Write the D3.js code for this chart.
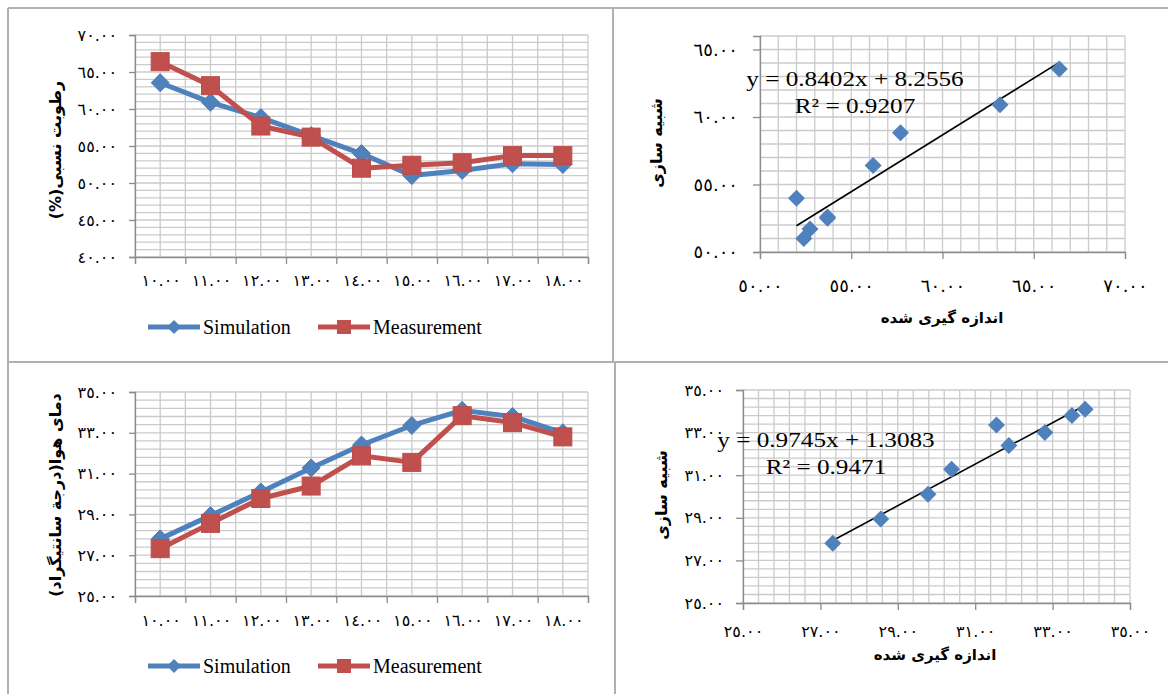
<html>
<script src="https://d3js.org/d3.v7.min.js"></script>
<style>
    body { margin: 0; background: #fff; }
</style>

<body>
    <script>
        // hours of the day (categories)
        var hours = [10, 11, 12, 13, 14, 15, 16, 17, 18];

        // relative humidity (%)
        var humSim = [63.55, 60.9, 58.84, 56.4, 53.98, 51.0, 51.7, 52.6, 52.5];
        var humMeas = [66.4, 63.15, 57.7, 56.2, 52.0, 52.4, 52.74, 53.7, 53.7];

        // air temperature (C)
        var tempSim = [27.8, 28.94, 30.1, 31.28, 32.4, 33.36, 34.1, 33.8, 33.0];
        var tempMeas = [27.32, 28.56, 29.78, 30.39, 31.87, 31.55, 33.84, 33.5, 32.8];

        var humTicks = [40, 45, 50, 55, 60, 65, 70];
        var humScatterX = [50, 55, 60, 65, 70];
        var humScatterY = [50, 55, 60, 65];
        var tempTicks = [25, 27, 29, 31, 33, 35];

        // trendline coefficients [slope, intercept] and R2 as printed
        var humFit = [0.8402, 8.2556];
        var humR2 = "0.9207";
        var tempFit = [0.9745, 1.3083];
        var tempR2 = "0.9471";

        var BLUE = "#4F81BD", RED = "#C0504D", GRID = "#CBCBCB", AXIS = "#8C8C8C";
        var FA = "٠١٢٣٤٥٦٧٨٩";
        function fa(v) { return v.toFixed(2).replace(/\d/g, d => FA[d]); }

        var svg = d3.select("body").append("svg")
            .attr("width", 1168)
            .attr("height", 694);

        // page frame lines
        var frame = svg.append("g").attr("stroke", "#B0B0B0").attr("stroke-width", 2);
        [[8, 8, 1168, 8], [8, 362, 1168, 362], [8, 8, 8, 694], [613, 8, 613, 362], [615, 362, 615, 694]]
            .forEach(l => frame.append("line").attr("x1", l[0]).attr("y1", l[1]).attr("x2", l[2]).attr("y2", l[3]));

        function diamond(r) { return `M0,${-r}L${r},0L0,${r}L${-r},0Z`; }

        function styleAxis(a, size, spacing) {
            a.select(".domain").attr("stroke", AXIS).attr("stroke-width", 1.3);
            a.selectAll(".tick line").attr("stroke", AXIS).attr("stroke-width", 1.3);
            a.selectAll("text").attr("font-family", "DejaVu Sans").attr("font-size", size)
                .attr("letter-spacing", spacing).attr("fill", "#000");
        }

        function vTitle(txt, cx, cy) {
            svg.append("text")
                .attr("transform", `translate(${cx},${cy}) rotate(-90)`)
                .attr("direction", "rtl")
                .attr("text-anchor", "middle")
                .attr("dominant-baseline", "central")
                .attr("font-family", "DejaVu Sans")
                .attr("font-weight", "bold")
                .attr("font-size", 16)
                .text(txt);
        }

        function lineChart(o) {
            var g = svg.append("g");
            var x = d3.scaleLinear().domain([0, hours.length]).range([o.left, o.right]);
            var y = d3.scaleLinear().domain(o.domain).range([o.bottom, o.top]);

            g.selectAll(".hg").data(d3.range(o.domain[0], o.domain[1] + 1e-6, o.minor)).enter()
                .append("line")
                .attr("x1", o.left).attr("x2", o.right)
                .attr("y1", d => y(d)).attr("y2", d => y(d))
                .attr("stroke", GRID).attr("stroke-width", 1.3);
            g.selectAll(".vg").data(d3.range(0, hours.length + 1e-6, 0.5)).enter()
                .append("line")
                .attr("x1", d => x(d)).attr("x2", d => x(d))
                .attr("y1", o.top).attr("y2", o.bottom)
                .attr("stroke", GRID).attr("stroke-width", 1.3);

            var ya = g.append("g").attr("transform", `translate(${o.left},0)`)
                .call(d3.axisLeft(y).tickValues(o.ticks).tickSize(6).tickPadding(12).tickFormat(fa));
            styleAxis(ya, 16, 1.6);

            var xa = g.append("g").attr("transform", `translate(0,${o.bottom})`)
                .call(d3.axisBottom(x).tickValues(d3.range(0, hours.length + 1)).tickSize(7).tickFormat(""));
            styleAxis(xa, 16, 1.6);

            g.selectAll(".xl").data(hours).enter().append("text")
                .attr("x", (d, i) => x(i + 0.5) + 1)
                .attr("y", o.labelY)
                .attr("text-anchor", "middle")
                .attr("font-family", "DejaVu Sans").attr("font-size", 16).attr("letter-spacing", 1.8)
                .text(d => fa(d));

            var series = [{ v: o.sim, c: BLUE, m: "d" }, { v: o.meas, c: RED, m: "s" }];
            var line = d3.line().x((d, i) => x(i + 0.5)).y(d => y(d));
            series.forEach(s => {
                g.append("path").attr("d", line(s.v)).attr("fill", "none")
                    .attr("stroke", s.c).attr("stroke-width", 5).attr("stroke-linejoin", "round");
                var pts = g.selectAll(null).data(s.v).enter();
                if (s.m == "d") {
                    pts.append("path").attr("d", diamond(9))
                        .attr("transform", (d, i) => `translate(${x(i + 0.5)},${y(d)})`)
                        .attr("fill", s.c).attr("stroke", "#4A7EBB");
                } else {
                    pts.append("rect").attr("x", (d, i) => x(i + 0.5) - 9).attr("y", d => y(d) - 9)
                        .attr("width", 18).attr("height", 18)
                        .attr("fill", s.c).attr("stroke", "#BE4B48");
                }
            });

            // legend
            var lg = [{ t: "Simulation", c: BLUE, m: "d", x: 148 }, { t: "Measurement", c: RED, m: "s", x: 318 }];
            lg.forEach(l => {
                g.append("line").attr("x1", l.x).attr("x2", l.x + 52)
                    .attr("y1", o.legendY).attr("y2", o.legendY)
                    .attr("stroke", l.c).attr("stroke-width", 5);
                if (l.m == "d") {
                    g.append("path").attr("d", diamond(7)).attr("transform", `translate(${l.x + 26},${o.legendY})`).attr("fill", l.c);
                } else {
                    g.append("rect").attr("x", l.x + 19).attr("y", o.legendY - 7).attr("width", 14).attr("height", 14).attr("fill", l.c);
                }
                g.append("text").attr("x", l.x + 55).attr("y", o.legendY + 7)
                    .attr("font-family", "Liberation Serif").attr("font-size", 20)
                    .text(l.t);
            });

            vTitle(o.title, 55, o.titleY);
        }

        function scatterChart(o) {
            var g = svg.append("g");
            var x = d3.scaleLinear().domain(o.xDomain).range([o.left, o.right]);
            var y = d3.scaleLinear().domain(o.yDomain).range([o.bottom, o.top]);

            g.selectAll(".hg").data(d3.range(o.yDomain[0], o.yDomain[1] + 1e-6, o.minor)).enter()
                .append("line")
                .attr("x1", o.left).attr("x2", o.right)
                .attr("y1", d => y(d)).attr("y2", d => y(d))
                .attr("stroke", GRID).attr("stroke-width", 1.3);
            g.selectAll(".vg").data(d3.range(o.xDomain[0], o.xDomain[1] + 1e-6, o.minor)).enter()
                .append("line")
                .attr("x1", d => x(d)).attr("x2", d => x(d))
                .attr("y1", o.top).attr("y2", o.bottom)
                .attr("stroke", GRID).attr("stroke-width", 1.3);

            var ya = g.append("g").attr("transform", `translate(${o.left},0)`)
                .call(d3.axisLeft(y).tickValues(o.yTicks).tickSize(7).tickPadding(o.pad).tickFormat(fa));
            styleAxis(ya, o.fs, o.ls);
            var xa = g.append("g").attr("transform", `translate(0,${o.bottom})`)
                .call(d3.axisBottom(x).tickValues(o.xTicks).tickSize(7).tickPadding(o.xpad).tickFormat(fa));
            styleAxis(xa, o.fs, o.ls);

            // trendline over the measured range
            var x0 = d3.min(o.xs), x1 = d3.max(o.xs);
            g.append("line")
                .attr("x1", x(x0)).attr("y1", y(o.fit[0] * x0 + o.fit[1]))
                .attr("x2", x(x1)).attr("y2", y(o.fit[0] * x1 + o.fit[1]))
                .attr("stroke", "#000").attr("stroke-width", 1.6);

            g.selectAll(null).data(o.xs).enter().append("path")
                .attr("d", diamond(8.5))
                .attr("transform", (d, i) => `translate(${x(d)},${y(o.ys[i])})`)
                .attr("fill", BLUE);

            var eq = [`y = ${o.fit[0]}x + ${o.fit[1]}`, `R² = ${o.r2}`];
            eq.forEach((t, i) => {
                g.append("text")
                    .attr("transform", `translate(${o.eqX},${o.eqY + i * 27}) scale(1.2,1)`)
                    .attr("text-anchor", "middle")
                    .attr("font-family", "Liberation Serif").attr("font-size", 21)
                    .text(t);
            });

            vTitle("شبیه سازی", o.titleX, o.titleY);
            g.append("text").attr("x", o.xTitleX).attr("y", o.xTitleY)
                .attr("direction", "rtl").attr("text-anchor", "middle")
                .attr("font-family", "DejaVu Sans").attr("font-weight", "bold").attr("font-size", 15)
                .text("اندازه گیری شده");
        }

        lineChart({
            left: 135, right: 588, top: 35, bottom: 257, domain: [40, 70], minor: 1,
            ticks: humTicks, sim: humSim, meas: humMeas, labelY: 286, legendY: 327,
            title: "رطوبت نسبی(%)", titleY: 150
        });
        lineChart({
            left: 135, right: 588, top: 392, bottom: 596, domain: [25, 35], minor: 0.4,
            ticks: tempTicks, sim: tempSim, meas: tempMeas, labelY: 626, legendY: 666,
            title: "دمای هوا(درجة سانتیگراد)", titleY: 495
        });
        scatterChart({
            left: 760, right: 1125, top: 36, bottom: 252, xDomain: [50, 70], yDomain: [50, 66], minor: 1,
            xTicks: humScatterX, yTicks: humScatterY, xs: humMeas, ys: humSim, fit: humFit, r2: humR2,
            eqX: 855, eqY: 86, titleX: 656, titleY: 143, xTitleX: 942, xTitleY: 323,
            fs: 18, ls: 3, pad: 15, xpad: 20
        });
        scatterChart({
            left: 743, right: 1130, top: 390, bottom: 603, xDomain: [25, 35], yDomain: [25, 35], minor: 0.4,
            xTicks: tempTicks, yTicks: tempTicks, xs: tempMeas, ys: tempSim, fit: tempFit, r2: tempR2,
            eqX: 826, eqY: 447, titleX: 661, titleY: 495, xTitleX: 935, xTitleY: 660,
            fs: 16, ls: 1.8, pad: 12, xpad: 16
        });
    </script>
</body>

</html>
